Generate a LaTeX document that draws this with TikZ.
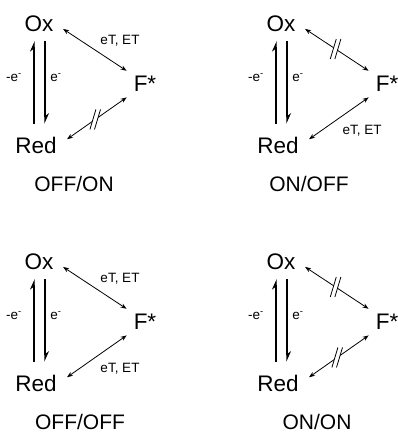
\documentclass[tikz,border=0pt]{standalone}
\usepackage{fontspec}
\setmainfont{Liberation Sans}
\usetikzlibrary{arrows.meta, positioning}

\tikzset{
  % blocked transfer: two slashes across the arrow
  cutmark/.pic={
    \fill[white] (-5.3pt,-10pt) -- (0.7pt,10pt) -- (5.3pt,10pt) -- (-0.7pt,-10pt) -- cycle;
    \draw[-, line width=0.8pt] (-5.3pt,-10pt) -- (0.7pt,10pt);
    \draw[-, line width=0.8pt] (-0.7pt,-10pt) -- (5.3pt,10pt);
  }
}

\begin{document}
\begin{tikzpicture}[
    x=1pt, y=-1pt,
    species/.style={font=\fontsize{22.5}{25}\selectfont, inner sep=2pt},
    tagtext/.style={font=\fontsize{21}{24}\selectfont, inner sep=0pt},
    elabel/.style={font=\fontsize{13.5}{15}\selectfont, inner sep=0pt},
    harp/.style={line width=1.2pt, -{Stealth[left, length=9pt, width=8pt]}},
    et/.style={line width=0.8pt, {Stealth[length=6pt, width=4.5pt]}-{Stealth[length=6pt, width=4.5pt]}},
    etup/.style={et, shorten <=9pt, shorten >=6pt},
    etdown/.style={et, shorten <=10pt, shorten >=6pt}
  ]
  \useasboundingbox (0,0) rectangle (398,433);

  % what the four panels share
  \foreach \i/\dx/\dy/\lbl/\tx in {1/0/0/{OFF/ON}/74, 2/242/0/{ON/OFF}/67, 3/0/238/{OFF/OFF}/80, 4/242/238/{ON/ON}/75}{
    \node[species] (ox\i) at (\dx+39,\dy+24) {Ox};
    \node[species] (red\i) at (\dx+36,\dy+145) {Red};
    \node[species] (fs\i) at (\dx+145,\dy+84) {F*};
    \node[elabel] (lo\i) at (\dx+14,\dy+78) {-e\textsuperscript{-}};
    \node[elabel] (ro\i) at (\dx+56,\dy+78) {e\textsuperscript{-}};
    \node[tagtext] (st\i) at (\dx+\tx,\dy+183.5) {\lbl};
    \draw[harp, shorten <=11pt, shorten >=7pt] ([xshift=-5pt]ox\i.south |- red\i.north) -- ([xshift=-5pt]ox\i.south);
    \draw[harp, shorten <=7pt, shorten >=11pt] ([xshift=6pt]ox\i.south) -- ([xshift=6pt]ox\i.south |- red\i.north);
  }

  % OFF/ON
  \draw[etup] (ox1.east) -- (fs1.north west);
  \node[elabel] (et1a) at (120,41) {eT, ET};
  \draw[etdown] (red1.east) -- coordinate[midway] (cut1b) (fs1.south west);
  \pic at (cut1b) {cutmark};

  % ON/OFF
  \draw[etup] (ox2.east) -- coordinate[midway] (cut2a) (fs2.north west);
  \pic at (cut2a) {cutmark};
  \draw[etdown] (red2.east) -- (fs2.south west);
  \node[elabel] (et2b) at (362,131) {eT, ET};

  % OFF/OFF
  \draw[etup] (ox3.east) -- (fs3.north west);
  \node[elabel] (et3a) at (120,279) {eT, ET};
  \draw[etdown] (red3.east) -- (fs3.south west);
  \node[elabel] (et3b) at (120,369) {eT, ET};

  % ON/ON
  \draw[etup] (ox4.east) -- coordinate[midway] (cut4a) (fs4.north west);
  \pic at (cut4a) {cutmark};
  \draw[etdown] (red4.east) -- coordinate[midway] (cut4b) (fs4.south west);
  \pic at (cut4b) {cutmark};
\end{tikzpicture}
\end{document}
